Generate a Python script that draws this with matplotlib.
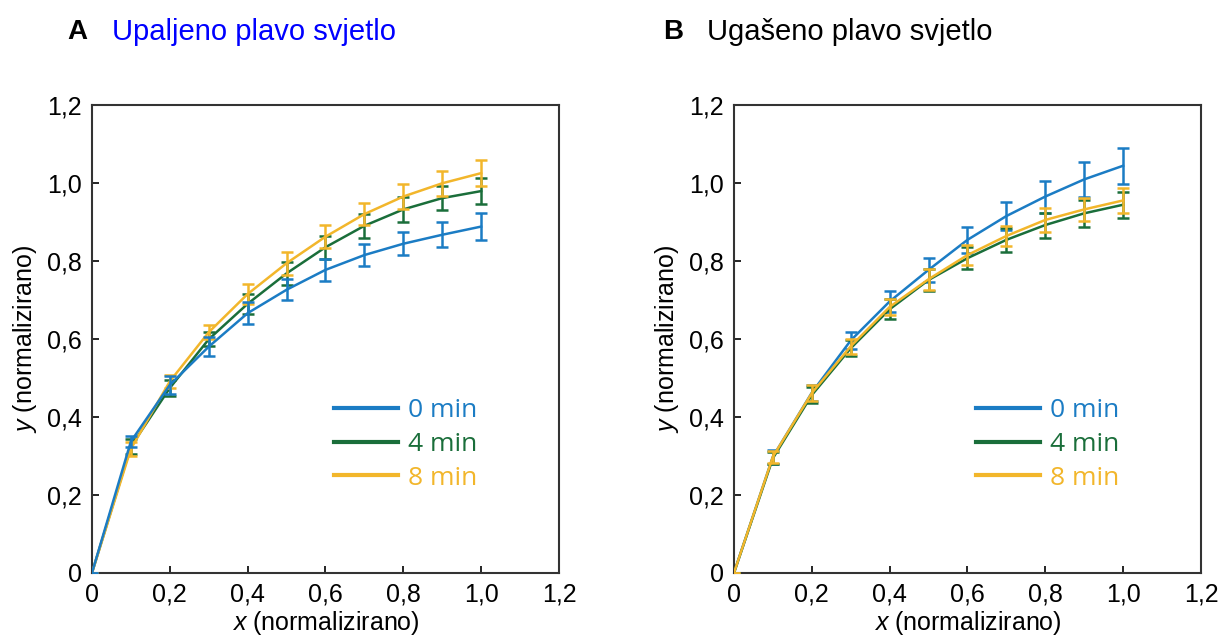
import matplotlib
matplotlib.use('Agg')
import matplotlib.pyplot as plt
import numpy as np

plt.rcParams['font.family'] = ['Liberation Sans', 'DejaVu Sans']
plt.rcParams['mathtext.fontset'] = 'custom'
plt.rcParams['mathtext.rm'] = 'Liberation Sans'
plt.rcParams['mathtext.it'] = 'Liberation Sans:italic'

x = [0, 0.1, 0.2, 0.3, 0.4, 0.5, 0.6, 0.7, 0.8, 0.9, 1.0]
labels = ['0 min', '4 min', '8 min']
colors = ['#1b7cc4', '#1a6e3a', '#f2b62b']

# panel A - upaljeno plavo svjetlo
a_0 = [0, 0.337, 0.482, 0.580, 0.666, 0.726, 0.777, 0.815, 0.844, 0.867, 0.888]
a_0_err = [0, 0.014, 0.022, 0.024, 0.029, 0.027, 0.029, 0.029, 0.030, 0.032, 0.034]
a_4 = [0, 0.324, 0.474, 0.599, 0.690, 0.768, 0.835, 0.890, 0.932, 0.961, 0.979]
a_4_err = [0, 0.019, 0.020, 0.018, 0.025, 0.029, 0.030, 0.030, 0.032, 0.031, 0.034]
a_8 = [0, 0.318, 0.491, 0.617, 0.715, 0.794, 0.862, 0.920, 0.965, 0.999, 1.025]
a_8_err = [0, 0.017, 0.016, 0.018, 0.026, 0.029, 0.029, 0.029, 0.031, 0.032, 0.033]

# panel B - ugaseno plavo svjetlo
b_0 = [0, 0.298, 0.462, 0.596, 0.696, 0.777, 0.854, 0.915, 0.965, 1.009, 1.044]
b_0_err = [0, 0.018, 0.021, 0.022, 0.028, 0.030, 0.033, 0.037, 0.041, 0.044, 0.046]
b_4 = [0, 0.294, 0.456, 0.576, 0.676, 0.751, 0.807, 0.854, 0.892, 0.922, 0.944]
b_4_err = [0, 0.015, 0.021, 0.021, 0.026, 0.027, 0.029, 0.030, 0.032, 0.035, 0.033]
b_8 = [0, 0.298, 0.461, 0.581, 0.682, 0.753, 0.815, 0.864, 0.905, 0.932, 0.955]
b_8_err = [0, 0.015, 0.021, 0.020, 0.021, 0.027, 0.025, 0.026, 0.030, 0.030, 0.032]

ticks = [0, 0.2, 0.4, 0.6, 0.8, 1.0, 1.2]
tick_labels = ['0', '0,2', '0,4', '0,6', '0,8', '1,0', '1,2']

fig = plt.figure(figsize=(12.21, 6.43), dpi=100)
ax1 = fig.add_axes([0.0753, 0.1089, 0.3825, 0.728])
ax2 = fig.add_axes([0.6011, 0.1089, 0.3825, 0.728])


def panel(ax, series, errs, zorders):
    for s, e, c, lab, z in zip(series, errs, colors, labels, zorders):
        ax.errorbar(x, s, yerr=e, color=c, lw=1.8, elinewidth=1.8,
                    capsize=4, capthick=1.8, label=lab, zorder=z)
    ax.set_xlim(0, 1.2)
    ax.set_ylim(0, 1.2)
    ax.set_xticks(ticks)
    ax.set_xticklabels(tick_labels)
    ax.set_yticks(ticks)
    ax.set_yticklabels(tick_labels)
    ax.tick_params(direction='in', length=5, width=1.2, labelsize=18, pad=7,
                   colors='black')
    for sp in ax.spines.values():
        sp.set_linewidth(1.5)
        sp.set_color('#333333')
    ax.set_xlabel(r'$\it{x}$ (normalizirano)', fontsize=18, labelpad=2)
    ax.set_ylabel(r'$\it{y}$ (normalizirano)', fontsize=18, labelpad=6)
    handles, labs = ax.get_legend_handles_labels()
    lines = [h[0] for h in handles]
    leg = ax.legend(lines, labs, loc='lower right', bbox_to_anchor=(0.875, 0.125),
                    frameon=False, handlelength=2.45, handletextpad=0.35,
                    labelspacing=0.33, prop={'family': 'Open Sans', 'size': 19})
    for t, c in zip(leg.get_texts(), colors):
        t.set_color(c)
    for l in leg.get_lines():
        l.set_linewidth(3)


panel(ax1, [a_0, a_4, a_8], [a_0_err, a_4_err, a_8_err], [4, 2, 3])
panel(ax2, [b_0, b_4, b_8], [b_0_err, b_4_err, b_8_err], [2, 3, 4])

fig.text(0.055, 0.950, 'A', fontsize=20, fontweight='bold', va='center')
fig.text(0.092, 0.950, 'Upaljeno plavo svjetlo', fontsize=21, color='#0000ff', va='center')
fig.text(0.543, 0.950, 'B', fontsize=20, fontweight='bold', va='center')
fig.text(0.579, 0.950, 'Ugašeno plavo svjetlo', fontsize=21, color='black', va='center')

fig.savefig('out.png', dpi=100)
